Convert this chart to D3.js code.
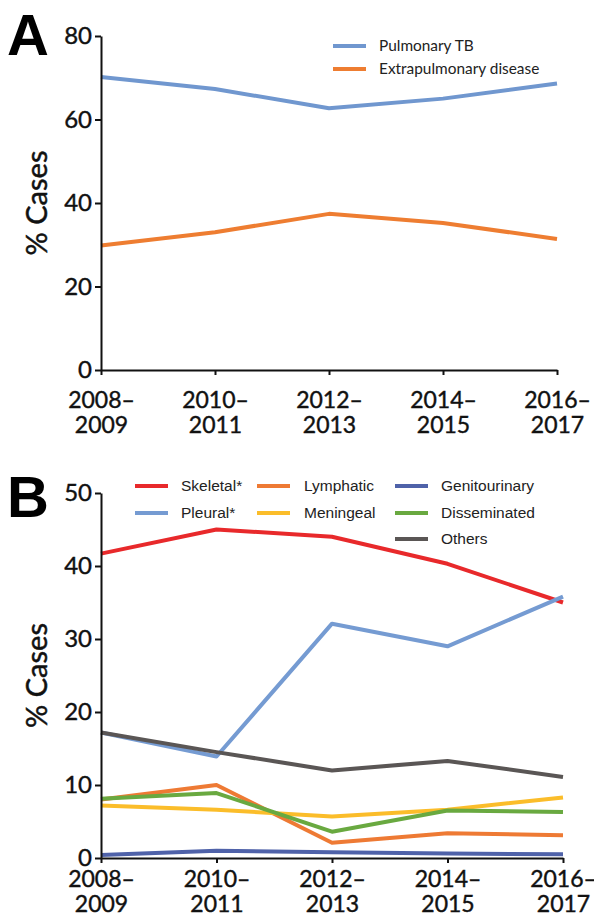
<!DOCTYPE html>
<html>
<head>
<meta charset="utf-8">
<script src="https://cdn.jsdelivr.net/npm/d3@7"></script>
<style>
  body { margin: 0; background: #fff; }
  svg { display: block; }
  .tick text { font-family: Lato, "Open Sans", sans-serif; }
</style>
</head>
<body>
<svg id="chart" width="594" height="919"></svg>
<script>
var PERIODS = ['2008–2009', '2010–2011', '2012–2013', '2014–2015', '2016–2017'];

// panel A
var A_SERIES = ['Pulmonary TB', 'Extrapulmonary disease'];
var A_COLORS = ['#7097cf', '#ee7d31'];
var PULMONARY = [70.2, 67.3, 62.7, 65.0, 68.6];
var EXTRAPULMONARY = [29.8, 33.0, 37.4, 35.2, 31.4];
var A_TICKS = [0, 20, 40, 60, 80];

// panel B
var B_SERIES = ['Skeletal*', 'Pleural*', 'Lymphatic', 'Meningeal', 'Genitourinary', 'Disseminated', 'Others'];
var B_COLORS = ['#e8292b', '#759bd2', '#ee7a34', '#fbbd2a', '#4f62a9', '#69a940', '#5a5655'];
var SKELETAL = [41.7, 45.0, 44.0, 40.3, 35.0];
var PLEURAL = [17.2, 13.9, 32.1, 29.0, 35.8];
var LYMPHATIC = [8.0, 10.0, 2.1, 3.4, 3.1];
var MENINGEAL = [7.2, 6.6, 5.7, 6.6, 8.3];
var GENITOURINARY = [0.4, 1.0, 0.8, 0.6, 0.5];
var DISSEMINATED = [8.1, 8.9, 3.6, 6.5, 6.3];
var OTHERS = [17.2, 14.5, 12.0, 13.3, 11.1];
var B_TICKS = [0, 10, 20, 30, 40, 50];

var svg = d3.select('#chart');
var FONT = 'Lato, "Open Sans", sans-serif';

function drawPanel(cfg)
{
  var g = svg.append('g');
  var x = d3.scalePoint().domain(PERIODS).range([cfg.left, cfg.right]);
  var y = d3.scaleLinear().domain(cfg.domain).range([cfg.bottom, cfg.top]);

  var line = d3.line()
    .x(function(d, i) { return x(PERIODS[i]); })
    .y(function(d) { return y(d); });

  cfg.data.forEach(function(vals, i) {
    g.append('path')
      .datum(vals)
      .attr('d', line)
      .attr('fill', 'none')
      .attr('stroke', cfg.colors[i])
      .attr('stroke-width', 4)
      .attr('stroke-linejoin', 'round');
  });

  var yAxis = g.append('g')
    .attr('transform', 'translate(' + cfg.left + ',0)')
    .call(d3.axisLeft(y).tickValues(cfg.ticks).tickSize(6).tickPadding(3).tickSizeOuter(0));
  yAxis.selectAll('text')
    .style('font-size', '24px')
    .attr('fill', '#111')
    .attr('stroke', '#111')
    .attr('stroke-width', 0.4);

  var xAxis = g.append('g')
    .attr('transform', 'translate(0,' + cfg.bottom + ')')
    .call(d3.axisBottom(x).tickSize(5).tickSizeOuter(0));
  xAxis.selectAll('text').remove();
  xAxis.selectAll('.tick').each(function(d) {
    var parts = d.split('–');
    var t = d3.select(this).append('text')
      .attr('text-anchor', 'middle')
      .attr('fill', '#111')
      .attr('stroke', '#111')
      .attr('stroke-width', 0.4)
      .style('font-family', FONT)
      .style('font-size', '23px');
    t.append('tspan').attr('x', 0).attr('y', cfg.labelY).text(parts[0] + '–');
    t.append('tspan').attr('x', 0).attr('y', cfg.labelY + 25).text(parts[1]);
  });
  g.selectAll('.domain, .tick line').attr('stroke', '#111').attr('stroke-width', 2);

  g.append('text')
    .attr('transform', 'translate(' + cfg.titleX + ',' + ((cfg.top + cfg.bottom) / 2) + ') rotate(-90)')
    .attr('text-anchor', 'middle')
    .style('font-family', FONT)
    .style('font-size', '29px')
    .attr('fill', '#111')
    .attr('stroke', '#111')
    .attr('stroke-width', 0.5)
    .text('% Cases');

  g.append('text')
    .attr('x', 7)
    .attr('y', cfg.letterY)
    .style('font-family', '"Liberation Sans", Arial, sans-serif')
    .style('font-weight', 'bold')
    .style('font-size', '58px')
    .text(cfg.letter);

  return g;
}

function drawLegend(g, names, colors, pos, font, size)
{
  names.forEach(function(name, i) {
    var p = pos[i];
    g.append('line')
      .attr('x1', p[0]).attr('x2', p[0] + 33)
      .attr('y1', p[1]).attr('y2', p[1])
      .attr('stroke', colors[i])
      .attr('stroke-width', 4);
    g.append('text')
      .attr('x', p[0] + p[2])
      .attr('y', p[1] + 5)
      .style('font-family', font)
      .style('font-size', size + 'px')
      .attr('fill', '#222')
      .text(name);
  });
}

var gA = drawPanel({
  left: 101, right: 557, top: 36, bottom: 370,
  domain: [0, 80], ticks: A_TICKS,
  data: [PULMONARY, EXTRAPULMONARY], colors: A_COLORS,
  titleX: 47, letter: 'A', letterY: 55, labelY: 38
});
drawLegend(gA, A_SERIES, A_COLORS, [
  [333, 46, 46],
  [333, 69, 46]
], FONT, 15.4);

var gB = drawPanel({
  left: 101, right: 563, top: 493, bottom: 858,
  domain: [0, 50], ticks: B_TICKS,
  data: [SKELETAL, PLEURAL, LYMPHATIC, MENINGEAL, GENITOURINARY, DISSEMINATED, OTHERS], colors: B_COLORS,
  titleX: 47, letter: 'B', letterY: 517, labelY: 29
});
drawLegend(gB, B_SERIES, B_COLORS, [
  [135, 486, 46],
  [135, 513, 46],
  [257, 486, 47],
  [257, 513, 47],
  [395, 486, 46],
  [395, 513, 46],
  [395, 539, 46]
], '"Liberation Sans", Arial, sans-serif', 15.5);
</script>
</body>
</html>
